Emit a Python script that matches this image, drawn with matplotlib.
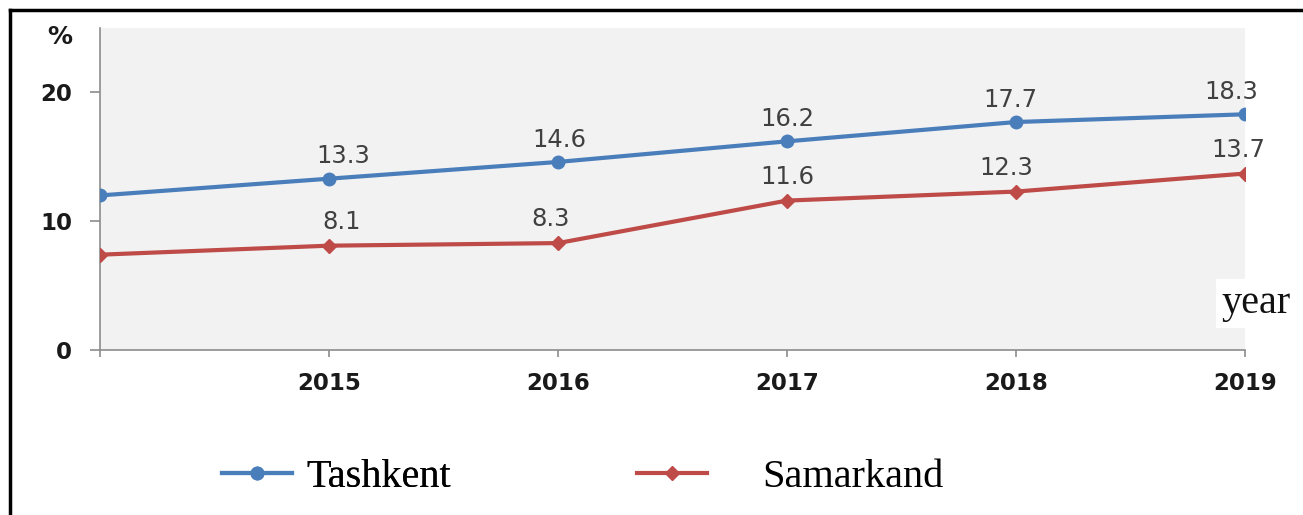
import matplotlib
matplotlib.use("Agg")
import matplotlib.pyplot as plt
from matplotlib.lines import Line2D

years = [2014, 2015, 2016, 2017, 2018, 2019]
tick_labels = ["", "2015", "2016", "2017", "2018", "2019"]
tashkent = [12.0, 13.3, 14.6, 16.2, 17.7, 18.3]
samarkand = [7.4, 8.1, 8.3, 11.6, 12.3, 13.7]
yticks = [0, 10, 20]

BLUE = "#4a7ebb"
RED = "#be4b48"
AXC = "#8c8c8c"

W, H = 1303, 515
fig = plt.figure(figsize=(W / 100, H / 100), dpi=100)
fig.patch.set_facecolor("white")

def fx(px):
    return px / W

def fy(py):
    return 1 - py / H

ax = fig.add_axes([fx(100), fy(350), fx(1245) - fx(100), (350 - 28) / H])
ax.set_facecolor("#f2f2f2")
ax.set_xlim(2014, 2019)
ax.set_ylim(0, 25)

ax.plot(years, tashkent, color=BLUE, lw=3, marker="o", ms=9, zorder=3)
ax.plot(years, samarkand, color=RED, lw=3, marker="D", ms=7.5, zorder=3)

# data labels (skip first point)
dx_t = [0, 10, 1, 0, -4, -10]
dx_s = [0, 9, -5, 0, -7, -5]
for i in range(1, len(years)):
    ax.annotate(f"{tashkent[i]:.1f}", (years[i], tashkent[i]), xytext=(dx_t[i], 11),
                textcoords="offset points", ha="center", va="baseline",
                fontsize=17.5, color="#404040", zorder=4)
    ax.annotate(f"{samarkand[i]:.1f}", (years[i], samarkand[i]), xytext=(dx_s[i], 12),
                textcoords="offset points", ha="center", va="baseline",
                fontsize=17.5, color="#404040", zorder=4)

for s in ["top", "right"]:
    ax.spines[s].set_visible(False)
for s in ["left", "bottom"]:
    ax.spines[s].set_color(AXC)
    ax.spines[s].set_linewidth(1.2)

ax.set_xticks(years)
ax.set_xticklabels(tick_labels)
ax.set_yticks(yticks)
ax.tick_params(axis="x", direction="out", length=5, width=1.2, color=AXC, pad=11,
               labelsize=16.5, labelcolor="#1a1a1a")
ax.tick_params(axis="y", direction="out", length=7, width=1.2, color=AXC, pad=13,
               labelsize=16.5, labelcolor="#1a1a1a")
for lab in ax.get_xticklabels() + ax.get_yticklabels():
    lab.set_fontweight("bold")

# "%" unit label
fig.text(fx(60), fy(37), "%", ha="center", va="center", fontsize=18,
         fontweight="bold", color="#1a1a1a")

# "year" label
fig.text(fx(1222), fy(313), "year", ha="left", va="baseline", fontsize=29,
         family="Liberation Serif", color="#111111",
         bbox=dict(facecolor="white", edgecolor="none", pad=4), zorder=5)

# legend (manual entries)
h1 = Line2D([], [], color=BLUE, lw=3, marker="o", ms=9)
h2 = Line2D([], [], color=RED, lw=3, marker="D", ms=7.5)
leg1 = fig.legend([h1], ["Tashkent"], loc="center left",
                  bbox_to_anchor=(fx(222), fy(477)), frameon=False,
                  prop={"family": "Liberation Serif", "size": 29},
                  handlelength=1.75, handletextpad=0.35, borderpad=0, borderaxespad=0)
leg2 = fig.legend([h2], ["Samarkand"], loc="center left",
                  bbox_to_anchor=(fx(637), fy(477)), frameon=False,
                  prop={"family": "Liberation Serif", "size": 29},
                  handlelength=1.75, handletextpad=1.35, borderpad=0, borderaxespad=0)
fig.add_artist(leg1)

# outer frame lines (left and top)
fig.add_artist(Line2D([fx(10), fx(10)], [fy(10), 0], transform=fig.transFigure,
                      color="black", lw=2.5))
fig.add_artist(Line2D([fx(10), 1], [fy(10), fy(10)], transform=fig.transFigure,
                      color="black", lw=2.5))

fig.savefig("out.png", dpi=100)
